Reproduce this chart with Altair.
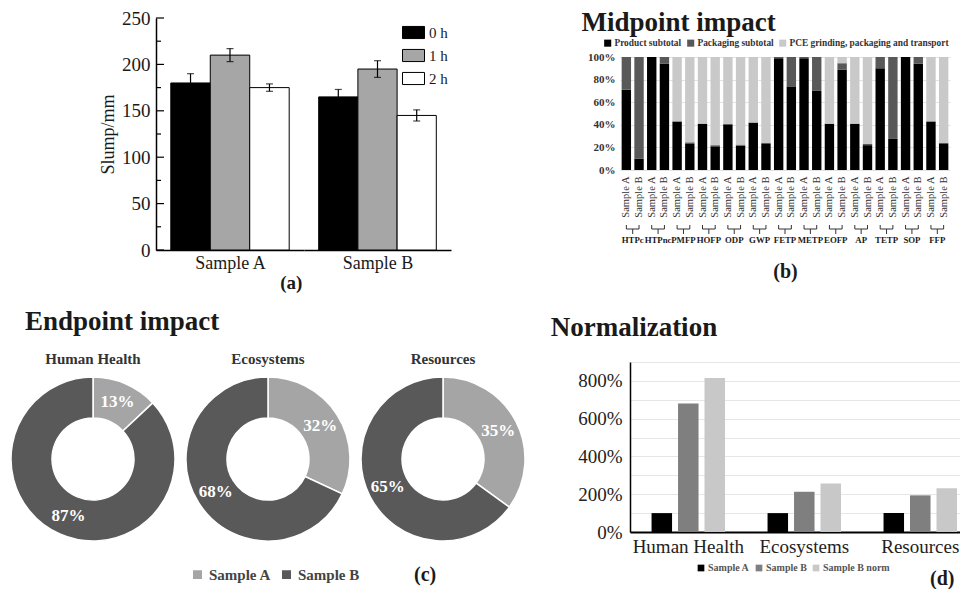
import altair as alt
import pandas as pd

SERIF = "Liberation Serif"
INK = "#1a1a1a"

# ---------------- data ----------------
# (a) slump
a_samples = ["Sample A", "Sample B"]
a_times = ["0 h", "1 h", "2 h"]
a_sample_a = [180, 210, 175]
a_sample_b = [165, 195, 145]
a_err_a = [10, 7, 4]
a_err_b = [8, 9, 6]
a_ticks = [0, 50, 100, 150, 200, 250]
a_minor = [25, 75, 125, 175, 225]

# (b) midpoint impact (percent shares)
b_groups = ["HTPc", "HTPnc", "PMFP", "HOFP", "ODP", "GWP", "FETP",
            "METP", "EOFP", "AP", "TETP", "SOP", "FFP"]
b_samples = ["Sample A", "Sample B"]
b_parts = ["Product subtotal", "Packaging subtotal",
           "PCE grinding, packaging and transport"]
b_product = [71, 10, 100, 94, 43, 23, 41, 21, 40.5, 21.5, 42, 23, 99,
             74, 99, 70, 41, 89, 41, 22, 90, 27.5, 100, 94, 43, 23]
b_packaging = [29, 90, 0, 6, 0, 1.5, 0, 1, 0, 1, 0, 1, 1,
               26, 1, 30, 0, 5.5, 0, 1, 10, 72.5, 0, 6, 0, 1]
b_pce = [0, 0, 0, 0, 57, 75.5, 59, 78, 59.5, 77.5, 58, 76, 0,
         0, 0, 0, 59, 5.5, 59, 77, 0, 0, 0, 0, 57, 76]
b_ticks = [0, 0.2, 0.4, 0.6, 0.8, 1.0]

# (c) endpoint impact
c_impacts = ["Human Health", "Ecosystems", "Resources"]
c_samples = ["Sample A", "Sample B"]
c_sample_a = [13, 32, 35]
c_sample_b = [87, 68, 65]

# (d) normalization
d_groups = ["Human Health", "Ecosystems", "Resources"]
d_series = ["Sample A", "Sample B", "Sample B norm"]
d_sample_a = [100, 100, 100]
d_sample_b = [680, 213, 194]
d_sample_b_norm = [815, 257, 231]
d_grid = [0, 100, 200, 300, 400, 500, 600, 700, 800, 900]


def spacer(w, h=1):
    return alt.Chart(pd.DataFrame({"s": [0]})).mark_rule(opacity=0).encode(
        x=alt.value(0), y=alt.value(0), y2=alt.value(h)).properties(width=w, height=h)


def indep(c):
    return c.resolve_scale(color="independent", fill="independent").resolve_legend(
        color="independent", fill="independent")


def wrap(c, top=1):
    return indep(alt.vconcat(spacer(1, top), c, spacing=0))


# ---------------- panel (a) ----------------
rows_a = []
for s, vals, errs in [("Sample A", a_sample_a, a_err_a), ("Sample B", a_sample_b, a_err_b)]:
    for t, v, e in zip(a_times, vals, errs):
        rows_a.append({"sample": s, "time": t, "value": v, "lo": v - e, "hi": v + e})
df_a = pd.DataFrame(rows_a)

ys_a = alt.Scale(domain=[0, 250], nice=False)
xs_a = alt.Scale(type="band", domain=a_times, paddingInner=0, paddingOuter=0.375)
fill_a = alt.Scale(domain=a_times, range=["#000000", "#a6a6a6", "#ffffff"])
ax_y_a = alt.Axis(values=a_ticks, title="Slump/mm", grid=False, ticks=False,
                  domainColor="black", domainWidth=1.5,
                  labelFont=SERIF, labelFontSize=19, labelColor=INK, labelPadding=6,
                  titleFont=SERIF, titleFontSize=18, titleFontWeight="normal", titleColor=INK,
                  titlePadding=4)
RECT = "M-1,-0.55H1V0.55H-1Z"


def slump_panel(sample, width, with_axis, with_legend):
    ax_x = alt.Axis(title=sample, labels=False, ticks=False, domainColor="black", domainWidth=1.5,
                    titleFont=SERIF, titleFontSize=18, titleFontWeight="normal", titleColor=INK,
                    titlePadding=4)
    ax_y = ax_y_a if with_axis else None
    legend = (alt.Legend(title=None, orient="top-right", offset=3, symbolType=RECT,
                         symbolSize=484, symbolStrokeColor="black", symbolStrokeWidth=1,
                         labelFont=SERIF, labelFontSize=15, labelColor=INK,
                         rowPadding=3, labelOffset=4, padding=0) if with_legend else None)
    base = alt.Chart(df_a).transform_filter(alt.datum.sample == sample)
    bars = base.mark_bar(stroke="black", strokeWidth=1).encode(
        x=alt.X("time:N", scale=xs_a, axis=ax_x),
        y=alt.Y("value:Q", scale=ys_a, axis=ax_y),
        fill=alt.Fill("time:N", scale=fill_a, legend=legend))
    err = base.mark_rule(color="black", strokeWidth=1.2).encode(
        x=alt.X("time:N", scale=xs_a, axis=ax_x),
        y=alt.Y("lo:Q", scale=ys_a, axis=ax_y), y2="hi:Q")
    cap_hi = base.mark_tick(color="black", size=7, thickness=1.2).encode(
        x=alt.X("time:N", scale=xs_a, axis=ax_x),
        y=alt.Y("hi:Q", scale=ys_a, axis=ax_y))
    cap_lo = base.mark_tick(color="black", size=7, thickness=1.2).encode(
        x=alt.X("time:N", scale=xs_a, axis=ax_x),
        y=alt.Y("lo:Q", scale=ys_a, axis=ax_y))
    layers = [bars, err, cap_hi, cap_lo]
    if with_axis:
        tk = alt.Chart(pd.DataFrame({"t": a_ticks})).mark_rule(color="black", strokeWidth=1.2).encode(
            y=alt.Y("t:Q", scale=ys_a, axis=ax_y), x=alt.value(0), x2=alt.value(8))
        mtk = alt.Chart(pd.DataFrame({"t": a_minor})).mark_rule(color="black", strokeWidth=1.2).encode(
            y=alt.Y("t:Q", scale=ys_a, axis=ax_y), x=alt.value(0), x2=alt.value(5))
        layers += [tk, mtk]
    return alt.layer(*layers).properties(width=width, height=232)


panel_a = alt.hconcat(
    slump_panel("Sample A", 148, True, False),
    slump_panel("Sample B", 147, False, True),
    spacing=0,
    title=alt.TitleParams("(a)", orient="bottom", anchor="middle", font=SERIF, fontSize=19,
                          fontWeight="bold", color=INK, dx=16, offset=2),
).resolve_legend(fill="independent")

# ---------------- panel (b) ----------------
keys = [f"{g}|{s}" for g in b_groups for s in b_samples]
rows_b = []
for i, k in enumerate(keys):
    for j, (part, arr) in enumerate(zip(b_parts, [b_product, b_packaging, b_pce])):
        rows_b.append({"key": k, "part": part, "ord": j, "value": arr[i] / 100.0})
df_b = pd.DataFrame(rows_b)
B_W, B_H = 330, 113
xs_b = alt.Scale(type="band", domain=keys, paddingInner=0.26, paddingOuter=0.13)
half_step = B_W / 26 / 2
ax_x_b = alt.Axis(title="(b)", labelExpr="split(datum.value, '|')[1]", labelAngle=270,
                  ticks=False, domain=False, labelFont=SERIF, labelFontSize=10.5, labelColor="#333",
                  labelPadding=6, titleFont=SERIF, titleFontSize=20, titleFontWeight="bold",
                  titleColor=INK, titlePadding=44)

bars_b = alt.Chart(df_b).mark_bar().encode(
    x=alt.X("key:N", scale=xs_b, axis=ax_x_b),
    y=alt.Y("value:Q", stack="zero", scale=alt.Scale(domain=[0, 1], nice=False),
            axis=alt.Axis(values=b_ticks, format=".0%", title=None, domain=False, ticks=False,
                          grid=True, gridColor="#e3e3e3", labelFont=SERIF, labelFontSize=11,
                          labelFontWeight="bold", labelColor="#333", labelPadding=5)),
    color=alt.Color("part:N", scale=alt.Scale(domain=b_parts, range=["#000000", "#595959", "#c9c9c9"]),
                    legend=alt.Legend(title=None, orient="none", direction="horizontal",
                                      legendX=-17, legendY=-19, symbolType="square",
                                      symbolSize=50, labelFont=SERIF, labelFontSize=9.4,
                                      labelFontWeight="bold", labelColor="#333", labelLimit=400,
                                      columnPadding=4, labelOffset=2, padding=0)),
    order=alt.Order("ord:Q"),
)
df_bg = pd.DataFrame({"group": b_groups,
                      "keyA": [f"{g}|Sample A" for g in b_groups],
                      "keyB": [f"{g}|Sample B" for g in b_groups]})
grp_txt = alt.Chart(df_bg).mark_text(font=SERIF, fontSize=8.8, fontWeight="bold", color=INK,
                                     dx=half_step, baseline="middle").encode(
    x=alt.X("keyA:N", scale=xs_b, axis=ax_x_b), y=alt.value(183), text="group:N")
br_h = alt.Chart(df_bg).mark_rule(color="#333").encode(
    x=alt.X("keyA:N", scale=xs_b, axis=ax_x_b), x2="keyB:N", y=alt.value(172))
br_l = alt.Chart(df_bg).mark_rule(color="#333").encode(
    x=alt.X("keyA:N", scale=xs_b, axis=ax_x_b), y=alt.value(168), y2=alt.value(172))
br_r = alt.Chart(df_bg).mark_rule(color="#333").encode(
    x=alt.X("keyB:N", scale=xs_b, axis=ax_x_b), y=alt.value(168), y2=alt.value(172))
br_c = alt.Chart(df_bg).mark_rule(color="#333", xOffset=half_step).encode(
    x=alt.X("keyA:N", scale=xs_b, axis=ax_x_b), y=alt.value(172), y2=alt.value(177))

panel_b = alt.layer(bars_b, br_h, br_l, br_r, br_c, grp_txt).properties(
    width=B_W, height=B_H,
    title=alt.TitleParams("Midpoint impact", anchor="start", font=SERIF, fontSize=27,
                          fontWeight="bold", color=INK, dx=-6, offset=1))

# ---------------- panel (c) ----------------
rows_c = []
for imp, va, vb in zip(c_impacts, c_sample_a, c_sample_b):
    rows_c.append({"impact": imp, "sample": "Sample A", "ord": 0, "value": va, "label": f"{va}%"})
    rows_c.append({"impact": imp, "sample": "Sample B", "ord": 1, "value": vb, "label": f"{vb}%"})
df_c = pd.DataFrame(rows_c)
color_c = alt.Scale(domain=c_samples, range=["#a5a5a5", "#595959"])
legend_c = alt.Legend(title="(c)", titleOrient="right", titlePadding=55,
                      orient="none", direction="horizontal",
                      legendX=179, legendY=196, symbolType="square",
                      symbolSize=110, labelFont=SERIF, labelFontSize=15,
                      labelFontWeight="bold", labelColor="#444",
                      titleFont=SERIF, titleFontSize=20, titleFontWeight="bold",
                      titleColor=INK, columnPadding=6, labelOffset=4, padding=0)


def donut(imp, legend):
    base = alt.Chart(df_c).transform_filter(alt.datum.impact == imp)
    arc = base.mark_arc(radius=82, radius2=41, stroke="white", strokeWidth=1.5).encode(
        theta=alt.Theta("value:Q", stack=True),
        color=alt.Color("sample:N", scale=color_c, legend=legend),
        order=alt.Order("ord:Q"),
    )
    txt = base.mark_text(radius=62, font=SERIF, fontSize=17, fontWeight="bold").encode(
        theta=alt.Theta("value:Q", stack=True),
        detail="sample:N",
        order=alt.Order("ord:Q"),
        text="label:N",
        color=alt.value("white"),
    )
    return alt.layer(arc, txt).properties(
        width=164, height=176,
        title=alt.TitleParams(imp, anchor="middle", font=SERIF, fontSize=15, fontWeight="bold",
                              color="#333", offset=4))


panel_c = alt.hconcat(
    donut(c_impacts[0], legend_c), donut(c_impacts[1], None), donut(c_impacts[2], None),
    spacing=11, bounds="flush",
    title=alt.TitleParams("Endpoint impact", anchor="start", font=SERIF, fontSize=27,
                          fontWeight="bold", color=INK, dx=17, offset=16),
).resolve_legend(color="independent")

# ---------------- panel (d) ----------------
rows_d = []
for s, arr in zip(d_series, [d_sample_a, d_sample_b, d_sample_b_norm]):
    for g, v in zip(d_groups, arr):
        rows_d.append({"group": g, "series": s, "value": v})
df_d = pd.DataFrame(rows_d)

panel_d = alt.Chart(df_d).mark_bar().encode(
    x=alt.X("group:N", scale=alt.Scale(type="band", domain=d_groups, paddingInner=0.315,
                                       paddingOuter=0.08, align=1),
            axis=alt.Axis(title=None, labelAngle=0, ticks=False, domainColor="black", domainWidth=2,
                          labelFont=SERIF, labelFontSize=19, labelColor="#222", labelPadding=5)),
    xOffset=alt.XOffset("series:N", scale=alt.Scale(type="band", domain=d_series,
                                                    paddingInner=0.226, paddingOuter=0.113)),
    y=alt.Y("value:Q", scale=alt.Scale(domain=[0, 900], nice=False),
            axis=alt.Axis(values=d_grid, labelExpr="datum.value % 200 == 0 ? datum.value + '%' : ''",
                          title=None, ticks=False, grid=True, gridColor="#e6e6e6",
                          domainColor="black", domainWidth=1.5, labelFont=SERIF, labelFontSize=19,
                          labelColor="#222", labelPadding=8)),
    color=alt.Color("series:N", scale=alt.Scale(domain=d_series, range=["#000000", "#7f7f7f", "#c8c8c8"]),
                    legend=alt.Legend(title="(d)", titleOrient="right", titlePadding=40,
                                      titleBaseline="line-top", titleLineHeight=22,
                                      orient="none", direction="horizontal",
                                      legendX=66, legendY=201, symbolType="square",
                                      symbolSize=45, labelFont=SERIF, labelFontSize=10,
                                      labelFontWeight="bold", labelColor="#555",
                                      titleFont=SERIF, titleFontSize=20, titleFontWeight="bold",
                                      titleColor=INK, columnPadding=4, labelOffset=2, padding=0)),
).properties(width=330, height=170,
             title=alt.TitleParams("Normalization", anchor="start", font=SERIF, fontSize=27,
                                   fontWeight="bold", color=INK, dx=-27, offset=20))

# ---------------- layout ----------------
row1 = indep(alt.hconcat(spacer(88), wrap(panel_a), spacer(130), wrap(panel_b), spacing=0))
row2 = indep(alt.hconcat(wrap(panel_c), spacer(22), wrap(panel_d, 7), spacing=0))

chart = indep(alt.vconcat(row1, row2, spacing=14)).configure(
    font=SERIF, padding={"left": 0, "top": 0, "right": 0, "bottom": 0}).configure_view(
    strokeWidth=0)

chart.save("out.html", embed_options={"renderer": "svg", "actions": False})
